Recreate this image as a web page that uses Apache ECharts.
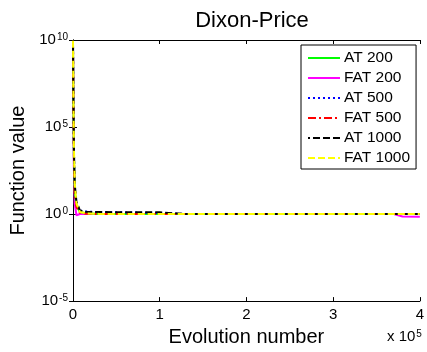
<!DOCTYPE html>
<html>
<head>
<meta charset="utf-8">
<script src="https://cdn.jsdelivr.net/npm/echarts@6/dist/echarts.min.js"></script>
<style>
  html, body { margin: 0; padding: 0; background: #fff; }
  #chart { width: 427px; height: 352px; }
</style>
</head>
<body>
<div id="chart"></div>
<script>
// Evaluation counts at which the best function value was recorded
const evals = [0, 500, 1000, 2000, 4000, 8000, 15000, 30000, 60000, 100000, 130000, 200000, 300000, 370000, 380000, 400000];

// Best Dixon-Price value per run configuration
const at200   = [7e9, 1e6, 2e3, 20, 3.0, 1.3, 1.1, 1.02, 1.0, 1.0, 1.0, 1.0, 1.0, 1.0, 1.0, 1.0];
const fat200  = [6e9, 5e5, 500, 4.0, 0.85, 1.0, 1.0, 1.0, 1.0, 1.0, 1.0, 1.0, 1.0, 1.0, 0.72, 0.7];
const at500   = [8e9, 3e6, 5e3, 30, 4.0, 1.6, 1.4, 1.3, 1.25, 1.15, 1.0, 1.0, 1.0, 1.0, 1.0, 1.0];
const fat500  = [8e9, 2e6, 3e3, 15, 2.5, 1.2, 1.05, 1.0, 1.0, 1.0, 1.0, 1.0, 1.0, 1.0, 1.0, 1.0];
const at1000  = [8e9, 4e6, 8e3, 50, 5.0, 1.6, 1.35, 1.3, 1.28, 1.26, 1.0, 1.0, 1.0, 1.0, 1.0, 1.0];
const fat1000 = [9e9, 5e6, 1e4, 60, 4.0, 1.3, 1.1, 1.02, 1.0, 1.0, 1.0, 1.0, 1.0, 1.0, 1.0, 1.0];

const seriesNames = ['AT 200', 'FAT 200', 'AT 500', 'FAT 500', 'AT 1000', 'FAT 1000'];

const FONT = '"Liberation Sans", Arial, sans-serif';

function pairs(vals) {
  return evals.map((x, i) => [x, vals[i]]);
}

function lineSeries(name, vals, color, type, offset, z) {
  return {
    name: name,
    type: 'line',
    data: pairs(vals),
    showSymbol: false,
    symbol: 'none',
    smooth: false,
    animation: false,
    z: z,
    lineStyle: { color: color, width: 2, type: type, dashOffset: offset || 0 },
    itemStyle: { color: color }
  };
}

// "10" with the exponent raised as a superscript
const powLabel = {
  formatter: function (v) {
    const e = Math.round(Math.log10(v));
    return '{b|10}{s|' + e + '}';
  },
  rich: {
    b: { fontSize: 15, fontFamily: FONT, color: '#000', verticalAlign: 'middle', lineHeight: 15 },
    s: { fontSize: 10, fontFamily: FONT, color: '#000', verticalAlign: 'top', lineHeight: 10, padding: [0, 0, 16, 1] }
  }
};

const chart = echarts.init(document.getElementById('chart'), null, { renderer: 'canvas' });

chart.setOption({
  backgroundColor: '#fff',
  animation: false,
  title: {
    text: 'Dixon-Price',
    left: 247,
    textAlign: 'center',
    top: 5,
    textStyle: { fontFamily: FONT, fontSize: 22, fontWeight: 'normal', color: '#000' }
  },
  legend: {
    data: seriesNames,
    orient: 'vertical',
    left: 301,
    top: 45,
    padding: [5, 6, 3, 6],
    itemGap: 4,
    itemWidth: 32,
    itemHeight: 14,
    backgroundColor: '#fff',
    borderColor: '#000',
    borderWidth: 1,
    borderRadius: 0,
    itemStyle: { opacity: 0 },
    textStyle: { fontFamily: FONT, fontSize: 15.5, lineHeight: 14, color: '#000', padding: [0, 0, 0, -1] }
  },
  grid: { left: 73, right: 5, top: 40, bottom: 49, containLabel: false },
  xAxis: [
    {
      type: 'value',
      min: 0,
      max: 400000,
      interval: 100000,
      position: 'bottom',
      name: 'Evolution number',
      nameLocation: 'middle',
      nameGap: 22,
      nameTextStyle: { fontFamily: FONT, fontSize: 20, color: '#000' },
      axisLine: { show: true, lineStyle: { color: '#000', width: 1 } },
      axisTick: { show: true, inside: true, length: 4, lineStyle: { color: '#000' } },
      axisLabel: {
        fontFamily: FONT, fontSize: 15, color: '#000', margin: 6,
        formatter: function (v) { return String(v / 100000); }
      },
      splitLine: { show: false }
    },
    {
      type: 'value',
      min: 0,
      max: 400000,
      interval: 100000,
      position: 'top',
      axisLine: { show: true, lineStyle: { color: '#000', width: 1 } },
      axisTick: { show: true, inside: true, length: 4, lineStyle: { color: '#000' } },
      axisLabel: { show: false },
      splitLine: { show: false }
    }
  ],
  yAxis: [
    {
      type: 'log',
      logBase: 10,
      min: 1e-5,
      max: 1e10,
      interval: 5,
      position: 'left',
      name: 'Function value',
      nameLocation: 'middle',
      nameGap: 30,
      nameRotate: 90,
      nameTextStyle: { fontFamily: FONT, fontSize: 20, color: '#000' },
      axisLine: { show: true, lineStyle: { color: '#000', width: 1 } },
      axisTick: { show: true, inside: true, length: 4, lineStyle: { color: '#000' } },
      axisLabel: Object.assign({ margin: 5 }, powLabel),
      minorTick: { show: false },
      splitLine: { show: false }
    },
    {
      type: 'log',
      logBase: 10,
      min: 1e-5,
      max: 1e10,
      interval: 5,
      position: 'right',
      axisLine: { show: true, lineStyle: { color: '#000', width: 1 } },
      axisTick: { show: true, inside: true, length: 4, lineStyle: { color: '#000' } },
      axisLabel: { show: false },
      splitLine: { show: false }
    }
  ],
  graphic: [
    {
      type: 'text',
      left: 387,
      top: 329,
      style: {
        text: '{b|x 10}{s|5}',
        rich: {
          b: { fontSize: 15, fontFamily: FONT, fill: '#000', verticalAlign: 'bottom', lineHeight: 15 },
          s: { fontSize: 10, fontFamily: FONT, fill: '#000', verticalAlign: 'top', lineHeight: 10, padding: [0, 0, 12, 1] }
        }
      }
    }
  ],
  series: [
    lineSeries('AT 200', at200, '#00ff00', 'solid', 0, 2),
    lineSeries('FAT 200', fat200, '#ff00ff', 'solid', 0, 1),
    lineSeries('AT 500', at500, '#0000ff', [2, 3], 0, 3),
    lineSeries('FAT 500', fat500, '#ff0000', [8, 3, 2, 3], 0, 4),
    lineSeries('AT 1000', at1000, '#000000', [7, 3], 5, 5),
    lineSeries('FAT 1000', fat1000, '#ffff00', [7, 3], 0, 6)
  ]
});
</script>
</body>
</html>
